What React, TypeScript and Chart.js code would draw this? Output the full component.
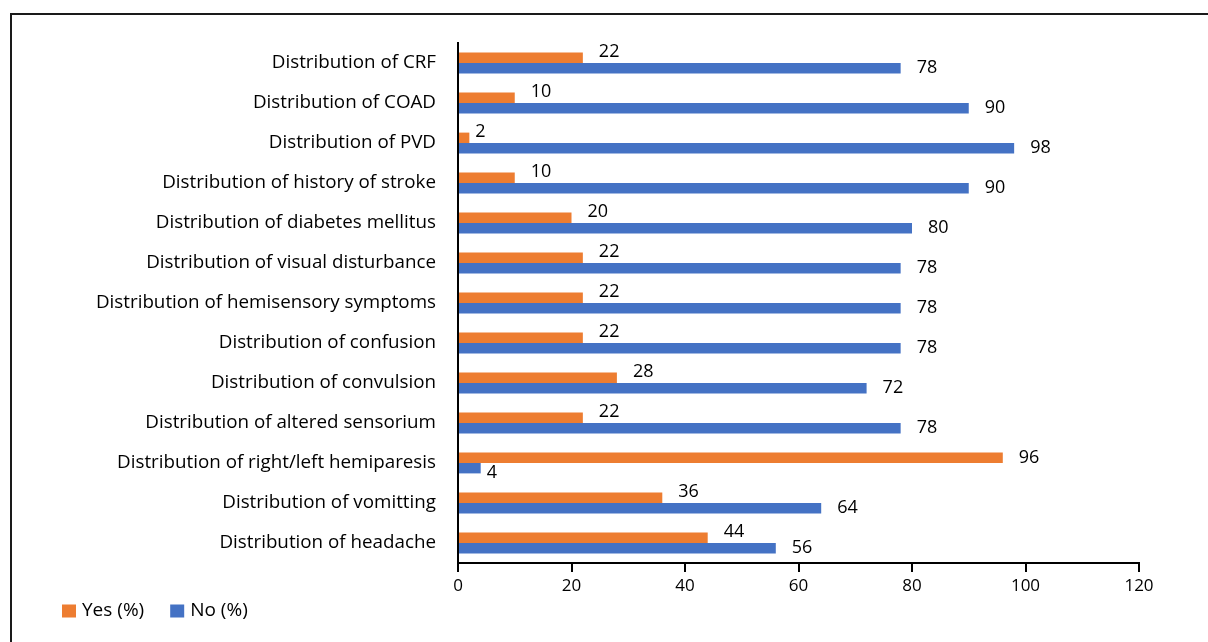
import React, { useEffect, useRef } from "react";
import { Chart, registerables } from "chart.js";

Chart.register(...registerables);

const categories = [
  "Distribution of CRF",
  "Distribution of COAD",
  "Distribution of PVD",
  "Distribution of history of stroke",
  "Distribution of diabetes mellitus",
  "Distribution of visual disturbance",
  "Distribution of hemisensory symptoms",
  "Distribution of confusion",
  "Distribution of convulsion",
  "Distribution of altered sensorium",
  "Distribution of right/left hemiparesis",
  "Distribution of vomitting",
  "Distribution of headache",
];
const yesValues = [22, 10, 2, 10, 20, 22, 22, 22, 28, 22, 96, 36, 44];
const noValues = [78, 90, 98, 90, 80, 78, 78, 78, 72, 78, 4, 64, 56];
const seriesNames = ["Yes (%)", "No (%)"];
const seriesColors = ["#ED7D31", "#4472C4"];
const xMin = 0;
const xMax = 120;
const xStep = 20;

const FONT = '"Open Sans", "Noto Sans", sans-serif';

const dataLabelPlugin = {
  id: "dataLabels",
  afterDatasetsDraw(chart: any) {
    const ctx = chart.ctx;
    ctx.save();
    ctx.font = `18px ${FONT}`;
    ctx.fillStyle = "#000";
    ctx.textAlign = "left";
    ctx.textBaseline = "middle";
    const ds = chart.data.datasets;
    ds.forEach((d: any, di: number) => {
      const meta = chart.getDatasetMeta(di);
      meta.data.forEach((el: any, i: number) => {
        const v = d.data[i];
        const other = ds[1 - di].data[i];
        const text = String(v);
        const w = ctx.measureText(text).width;
        const gap = w < 14 ? 6 : 16;
        let dy = 0;
        if (v < other) dy = di === 0 ? -6 : 5;
        ctx.fillText(text, el.x + gap, el.y + dy);
      });
    });
    ctx.restore();
  },
};

const legendPlugin = {
  id: "customLegend",
  afterDraw(chart: any) {
    const ctx = chart.ctx;
    ctx.save();
    ctx.font = `19px ${FONT}`;
    ctx.textBaseline = "middle";
    ctx.textAlign = "left";
    let x = 62;
    const yc = 611;
    chart.data.datasets.forEach((d: any) => {
      ctx.fillStyle = d.backgroundColor;
      ctx.fillRect(x, yc - 6.5, 14, 13);
      ctx.fillStyle = "#000";
      ctx.fillText(d.label, x + 20, yc);
      x += 20 + ctx.measureText(d.label).width + 26;
    });
    ctx.restore();
  },
};

export default function App() {
  const canvasRef = useRef<HTMLCanvasElement | null>(null);

  useEffect(() => {
    if (!canvasRef.current) return;
    const chart = new Chart(canvasRef.current, {
      type: "bar",
      data: {
        labels: categories,
        datasets: [
          {
            label: seriesNames[0],
            data: yesValues,
            backgroundColor: seriesColors[0],
            barPercentage: 1,
            categoryPercentage: 0.52,
          },
          {
            label: seriesNames[1],
            data: noValues,
            backgroundColor: seriesColors[1],
            barPercentage: 1,
            categoryPercentage: 0.52,
          },
        ],
      },
      options: {
        indexAxis: "y",
        animation: false,
        responsive: false,
        maintainAspectRatio: false,
        layout: { padding: { left: 10, top: 43, right: 69, bottom: 39 } },
        plugins: {
          legend: { display: false },
          tooltip: { enabled: false },
        },
        scales: {
          x: {
            min: xMin,
            max: xMax,
            ticks: {
              stepSize: xStep,
              color: "#000",
              font: { family: FONT, size: 17 },
              padding: 4,
              maxRotation: 0,
            },
            grid: {
              display: true,
              drawOnChartArea: false,
              drawTicks: true,
              tickLength: 9,
              color: "#000",
              lineWidth: 2,
            },
            border: { display: true, color: "#000", width: 2 },
            afterFit(scale: any) {
              scale.height = 40;
            },
          },
          y: {
            ticks: {
              color: "#000",
              font: { family: FONT, size: 18.8 },
              padding: 22,
              autoSkip: false,
            },
            grid: { display: false, drawTicks: false },
            border: { display: true, color: "#000", width: 2 },
            afterFit(scale: any) {
              scale.width = 448;
            },
          },
        },
      },
      plugins: [dataLabelPlugin, legendPlugin],
    } as any);
    return () => chart.destroy();
  }, []);

  return (
    <div
      style={{
        position: "fixed",
        left: 0,
        top: 0,
        width: 1208,
        height: 642,
        background: "#fff",
      }}
    >
      <canvas
        ref={canvasRef}
        width={1208}
        height={642}
        style={{ position: "absolute", left: 0, top: 0, width: 1208, height: 642 }}
      />
      <div
        style={{
          position: "absolute",
          left: 10,
          top: 13,
          right: 0,
          bottom: 0,
          borderTop: "2px solid #1a1a1a",
          borderLeft: "2px solid #1a1a1a",
          pointerEvents: "none",
        }}
      />
    </div>
  );
}
